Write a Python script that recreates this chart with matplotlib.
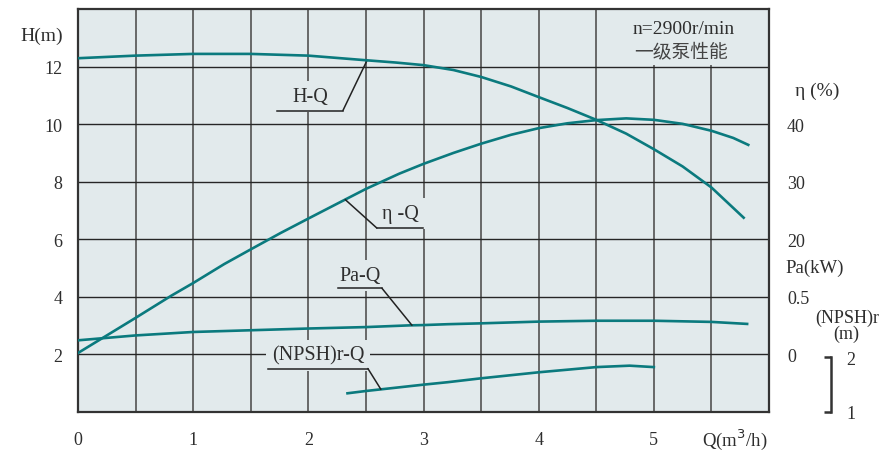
import numpy as np
import matplotlib
matplotlib.use("Agg")
import matplotlib.pyplot as plt
from matplotlib.ticker import MultipleLocator, FixedLocator
from matplotlib.patches import Rectangle

# ---------------- data ----------------
q_h = [0, 0.5, 1.0, 1.5, 2.0, 2.5, 2.76, 3.0, 3.26, 3.5, 3.76, 4.0, 4.25, 4.5,
       4.76, 5.0, 5.25, 5.5, 5.78]
h_vals = [12.29, 12.38, 12.44, 12.44, 12.38, 12.22, 12.14, 12.05, 11.88, 11.64,
          11.31, 10.94, 10.56, 10.15, 9.67, 9.13, 8.53, 7.80, 6.75]

q_eta = [0, 0.25, 0.5, 0.81, 1.0, 1.27, 1.5, 1.76, 2.0, 2.32, 2.5, 2.79, 3.0,
         3.26, 3.5, 3.76, 4.0, 4.25, 4.5, 4.76, 5.0, 5.25, 5.5, 5.69, 5.82]
eta_vals = [0.25, 3.3, 6.35, 10.2, 12.4, 15.7, 18.25, 21.1, 23.6, 26.9, 28.75,
            31.4, 33.1, 35.0, 36.6, 38.15, 39.3, 40.15, 40.7, 41.0, 40.75,
            40.05, 38.85, 37.6, 36.4]

q_pa = [0, 0.5, 1.0, 1.5, 2.0, 2.5, 2.88, 3.0, 3.21, 3.5, 4.0, 4.5, 5.0, 5.5, 5.81]
pa_vals = [0.1225, 0.165, 0.195, 0.21, 0.225, 0.2375, 0.2525, 0.255, 0.2625,
           0.27, 0.285, 0.2925, 0.2925, 0.2825, 0.265]

q_npsh = [2.34, 2.5, 3.0, 3.21, 3.5, 4.0, 4.5, 4.79, 5.0]
npsh_vals = [1.342, 1.384, 1.5, 1.545, 1.616, 1.726, 1.821, 1.847, 1.821]

x_ticks = [0, 1, 2, 3, 4, 5]
h_ticks = [2, 4, 6, 8, 10, 12]
eta_ticks = [20, 30, 40]
pa_ticks = [0, 0.5]
npsh_ticks = [1, 2]

title_lines = ["n=2900r/min", "一级泵性能"]
curve_labels = ["H-Q", "η -Q", "Pa-Q", "(NPSH)r-Q"]

# ---------------- style ----------------
BG = "#e2eaec"
TEAL = "#0b7a7e"
TXT = "#2e2e2e"
SERIF = ["Liberation Serif", "DejaVu Serif"]
CJK = ["Noto Sans CJK SC", "DejaVu Sans"]
plt.rcParams["font.family"] = SERIF
FS = 13
LFS = 14.5

W, Hpx = 884, 452
fig = plt.figure(figsize=(W / 100, Hpx / 100), dpi=100)
L, R, T, B = 78, 769, 10, 413
ax = fig.add_axes([L / W, 1 - B / Hpx, (R - L) / W, (B - T) / Hpx])
ax.set_facecolor(BG)
ax.set_xlim(0, 6)
ax.set_ylim(0, 14)
ax.set_axisbelow(True)

# right scales: eta = 5H - 10 ; Pa = (H-2)/4 ; NPSH = 1 + H/1.9
ax_eta = ax.twinx()
ax_eta.set_ylim(-10, 60)
ax_pa = ax.twinx()
ax_pa.set_ylim(-0.5, 3.0)
ax_np = ax.twinx()
ax_np.set_ylim(1.0, 1 + 14 / 1.9)

for a in (ax, ax_eta, ax_pa, ax_np):
    a.set_xlim(0, 6)

for s in ax.spines.values():
    s.set_color("#333333")
    s.set_linewidth(1.6)
for a in (ax_eta, ax_pa, ax_np):
    for s in a.spines.values():
        s.set_visible(False)
    a.patch.set_visible(False)

# ticks / grid
ax.xaxis.set_major_locator(FixedLocator(x_ticks))
ax.xaxis.set_minor_locator(MultipleLocator(0.5))
ax.set_xticklabels([str(v) for v in x_ticks])
ax.yaxis.set_major_locator(FixedLocator(h_ticks))
ax.set_yticklabels([str(v) for v in h_ticks])
ax.tick_params(axis="both", which="both", length=0, labelsize=FS, colors=TXT)
ax.tick_params(axis="x", pad=14)
ax.tick_params(axis="y", pad=11)

ax.xaxis.grid(True, which="both", color="#5e5e5e", lw=1.3)
ax.yaxis.grid(True, which="major", color="#262626", lw=1.0)

ax_eta.yaxis.set_major_locator(FixedLocator(eta_ticks))
ax_eta.set_yticklabels([str(v) for v in eta_ticks])
ax_eta.tick_params(axis="y", length=0, pad=13, labelsize=FS, labelcolor=TXT)
ax_pa.yaxis.set_major_locator(FixedLocator(pa_ticks))
ax_pa.set_yticklabels(["0", "0.5"])
ax_pa.tick_params(axis="y", length=0, pad=13, labelsize=FS, labelcolor=TXT)

sp = ax_np.spines["right"]
sp.set_visible(True)
sp.set_position(("axes", (831 - L) / (R - L)))
sp.set_bounds(1, 2)
sp.set_linewidth(1.8)
sp.set_color("#333333")
ax_np.yaxis.set_major_locator(FixedLocator(npsh_ticks))
ax_np.set_yticklabels([str(v) for v in npsh_ticks])
ax_np.tick_params(axis="y", direction="in", length=5, width=1.8, color="#333333",
                  pad=11, labelsize=FS, labelcolor=TXT)
for t in ax_np.yaxis.get_major_ticks():
    t.tick2line.set_clip_on(False)
    t.label2.set_clip_on(False)

# area behind the title (no grid lines there)
ax.add_patch(Rectangle((4.54, 12.05), 1.46, 1.95, facecolor=BG, edgecolor="none", zorder=1))

# curves
lw = 1.9
ax.plot(q_h, h_vals, color=TEAL, lw=lw, zorder=4, solid_joinstyle="round")
ax_eta.plot(q_eta, eta_vals, color=TEAL, lw=lw, solid_joinstyle="round")
ax_pa.plot(q_pa, pa_vals, color=TEAL, lw=lw, solid_joinstyle="round")
ax_np.plot(q_npsh, npsh_vals, color=TEAL, lw=lw, solid_joinstyle="round")

# title text
ax.text(5.26, 13.32, title_lines[0], ha="center", va="center", fontsize=14, color=TXT, zorder=5)
ax.text(5.24, 12.55, title_lines[1], ha="center", va="center", fontsize=13.5,
        family=CJK, color="#444444", zorder=5)

# curve labels with leader lines
def label(target_ax, q0, qs, vs, text, tx, ty, ux0, ux1, uy):
    y0 = np.interp(q0, qs, vs)
    ax.text(tx, ty, text, ha="center", va="center", fontsize=LFS, color=TXT, zorder=5,
            bbox=dict(boxstyle="square,pad=0.3", facecolor=BG, edgecolor="none"))
    ax.plot([ux0, ux1], [uy, uy], color="#222222", lw=1.1, zorder=6)
    lead_x = ux1 if q0 > ux1 else ux0
    target_ax.annotate("", xy=(q0, y0), xytext=(lead_x, uy), textcoords=ax.transData,
                       arrowprops=dict(arrowstyle="-", color="#222222", lw=1.1,
                                       shrinkA=0, shrinkB=0))

label(ax, 2.51, q_h, h_vals, curve_labels[0], 2.02, 10.95, 1.727, 2.30, 10.47)
label(ax_eta, 2.32, q_eta, eta_vals, curve_labels[1], 2.80, 6.88, 2.595, 2.995, 6.39)
label(ax_pa, 2.90, q_pa, pa_vals, curve_labels[2], 2.448, 4.75, 2.257, 2.639, 4.30)
label(ax_np, 2.63, q_npsh, npsh_vals, curve_labels[3], 2.083, 1.97, 1.649, 2.517, 1.51)

# axis titles
def ftext(x, y, s, size=FS, **kw):
    fig.text(x / W, 1 - y / Hpx, s, fontsize=size, color=TXT, **kw)

ftext(42, 36, "H(m)", ha="center", va="center", size=14)
ftext(817, 91, "η (%)", ha="center", va="center", size=14)
ftext(815, 268, "Pa(kW)", ha="center", va="center", size=13.5)
ftext(847, 318, "(NPSH)r", ha="center", va="center")
ftext(846, 334, "(m)", ha="center", va="center")
ftext(735, 440, "Q(m$^3$/h)", ha="center", va="center", size=13.5)

fig.savefig("out.png", dpi=100, facecolor="white")
